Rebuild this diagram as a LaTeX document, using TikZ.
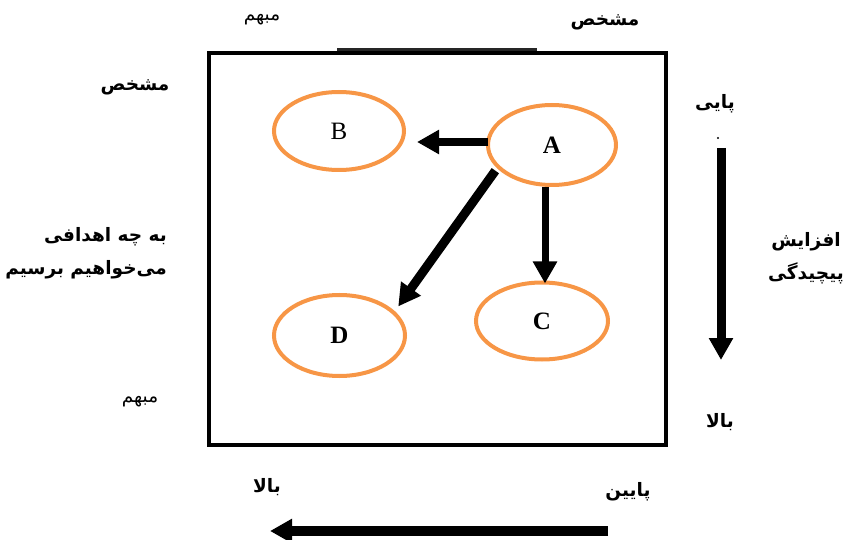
\documentclass[tikz,border=0pt]{standalone}
\usepackage{fontspec}
\setmainfont{Liberation Serif}
\newfontfamily\fa[Script=Arabic]{DejaVu Sans}
\TeXXeTstate=1
\usetikzlibrary{shapes.geometric,arrows.meta,calc}
\definecolor{orng}{HTML}{F79646}
\begin{document}
\begin{tikzpicture}[x=1pt,y=-1pt,
  ell/.style={ellipse,draw=orng,line width=4pt,inner sep=0pt,font=\fontsize{25}{27}\selectfont},
  arr/.style={line width=8pt,-{Triangle[width=23pt,length=22pt]}},
  lbl/.style={font=\fa\fontsize{18.5}{33}\selectfont\bfseries,inner sep=0pt},
  lbln/.style={font=\fa\fontsize{18.5}{33}\selectfont,inner sep=0pt}]
\useasboundingbox (0,0) rectangle (849,540);
% frame
\draw[line width=4pt] (209,53) rectangle (666,445);
\draw[line width=3pt,black!85] (337,49.5) -- (537,49.5);
% ellipses
\node[ell,minimum width=130pt,minimum height=78pt] (B) at (339,131) {B};
\node[ell,minimum width=128pt,minimum height=80pt] (A) at (552,145) {\textbf{A}};
\node[ell,minimum width=132pt,minimum height=77pt] (C) at (542,321) {\textbf{C}};
\node[ell,minimum width=131pt,minimum height=81pt] (D) at (339.5,335.5) {\textbf{D}};
% arrows
\draw[arr] ($(A.west)+(2,-3)$) -- ($(B.east)+(11,11)$);
\draw[arr,line width=7pt] ($(A.south)+(-7,0)$) -- ($(C.north)+(3,3)$);
\draw[arr,line width=9pt] ($(A.south west)+(-10,-4)$) -- ($(D.north east)+(11,1)$);
\coordinate (r1) at (721,148);
\coordinate (r2) at (721,360);
\draw[arr,line width=9pt] (r1) -- (r2);
\coordinate (b1) at (608,531);
\coordinate (b2) at (270,531);
\draw[arr,line width=10pt] (b1) -- (b2);
% labels
\node[lbln] (t1) at (262,20) {\beginR مبهم\endR};
\node[lbl] (t2) at (605,22) {\beginR مشخص\endR};
\node[lbl] (t3) at (135,87) {\beginR مشخص\endR};
\node[lbl,anchor=east,align=right] (t4) at (167,253) {\beginR به چه اهدافی\endR\\\beginR می‌خواهیم برسیم\endR};
\node[lbln] (t5) at (140,402) {\beginR مبهم\endR};
\node[lbl] (t6) at (715,104) {\beginR پایی\endR};
\node[circle,fill,inner sep=0.8pt] (dot) at (718,138) {};
\node[lbl,align=center] (t7) at (806,258) {\beginR افزایش\endR\\\beginR پیچیدگی\endR};
\node[lbl] (t8) at (720,422) {\beginR بالا\endR};
\node[lbl] (t9) at (267,487) {\beginR بالا\endR};
\node[lbl] (t10) at (628,492) {\beginR پایین\endR};
\end{tikzpicture}
\end{document}
